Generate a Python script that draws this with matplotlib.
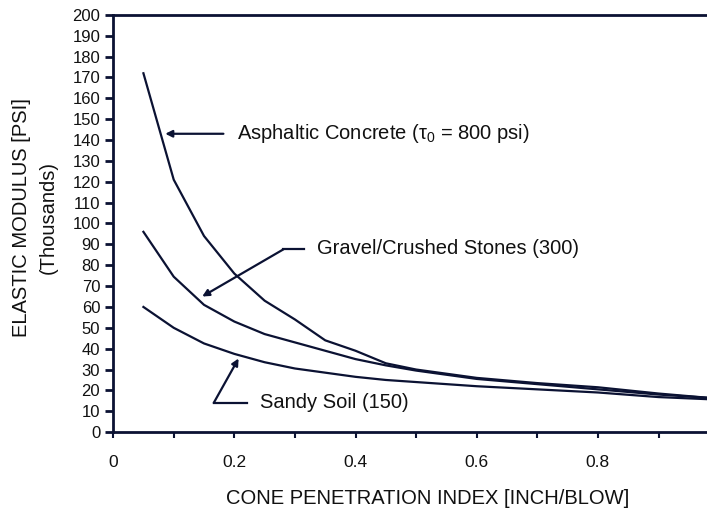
import matplotlib
matplotlib.use("Agg")
import matplotlib.pyplot as plt

plt.rcParams["font.family"] = ["Liberation Sans", "DejaVu Sans"]
plt.rcParams["mathtext.fontset"] = "custom"
plt.rcParams["mathtext.rm"] = "Liberation Sans"
plt.rcParams["mathtext.it"] = "Liberation Sans"

# cone penetration index [inch/blow]
cpi = [0.05, 0.10, 0.15, 0.20, 0.25, 0.30, 0.35, 0.40, 0.45, 0.50,
       0.60, 0.70, 0.80, 0.90, 0.98]
# elastic modulus, thousands of psi
asphalt = [172, 121, 94, 76, 63, 54, 44, 39, 33, 30, 26, 23.5, 21.5, 18.5, 16.5]
gravel = [96, 74.5, 61, 53, 47, 43, 39, 35, 32, 29.5, 25.5, 23, 20.5, 18, 16.5]
sandy = [60, 50, 42.5, 37.5, 33.5, 30.5, 28.5, 26.5, 25, 24, 22, 20.5, 19, 16.8, 15.8]

LINE = "#0b1233"
TEXT = "#111111"

fig = plt.figure(figsize=(7.07, 5.12), dpi=100)
ax = fig.add_axes([0.160, 0.156, 0.840, 0.815])

for ys in (asphalt, gravel, sandy):
    ax.plot(cpi, ys, color=LINE, lw=1.6)

arrow = dict(arrowstyle="-|>", color=LINE, lw=1.6, mutation_scale=10,
             shrinkA=0, shrinkB=0)

# Asphaltic concrete label
ax.annotate("", xy=(0.086, 143), xytext=(0.182, 143), arrowprops=arrow)
ax.text(0.205, 143, r"Asphaltic Concrete ($\tau_0$ = 800 psi)",
        fontsize=14.5, va="center", ha="left", color=TEXT)

# Gravel label
ax.plot([0.281, 0.315], [87.6, 87.6], color=LINE, lw=1.6)
ax.annotate("", xy=(0.147, 65), xytext=(0.281, 87.6), arrowprops=arrow)
ax.text(0.337, 88, "Gravel/Crushed Stones (300)",
        fontsize=14.5, va="center", ha="left", color=TEXT)

# Sandy soil label
ax.plot([0.166, 0.221], [14, 14], color=LINE, lw=1.6)
ax.annotate("", xy=(0.207, 35.3), xytext=(0.166, 14), arrowprops=arrow)
ax.text(0.243, 14, "Sandy Soil (150)",
        fontsize=14.5, va="center", ha="left", color=TEXT)

ax.set_xlim(0, 0.98)
ax.set_ylim(0, 200)
ax.set_yticks(range(0, 201, 10))
ax.set_xticks([0, 0.2, 0.4, 0.6, 0.8])
ax.set_xticklabels(["0", "0.2", "0.4", "0.6", "0.8"])
ax.set_xticks([0.1, 0.3, 0.5, 0.7, 0.9], minor=True)

ax.spines["right"].set_visible(False)
for s in ("left", "bottom", "top"):
    ax.spines[s].set_color(LINE)
    ax.spines[s].set_linewidth(2)

ax.tick_params(axis="y", direction="out", length=5.8, width=2, color=LINE,
               labelsize=12, pad=3.5, labelcolor=TEXT)
ax.tick_params(axis="x", which="both", direction="out", length=4.5, width=1.5,
               color=LINE, labelsize=12.5, pad=12, labelcolor=TEXT)

# axis titles placed in figure pixels to match the reference
W, H = 707, 512
fig.text(428 / W, 1 - 499 / H, "CONE PENETRATION INDEX [INCH/BLOW]",
         fontsize=14.5, ha="center", va="center", color=TEXT)
fig.text(22 / W, 1 - 218 / H, "ELASTIC MODULUS [PSI]", rotation=90,
         fontsize=14.5, ha="center", va="center", color=TEXT)
fig.text(48 / W, 1 - 218 / H, "(Thousands)", rotation=90,
         fontsize=14.5, ha="center", va="center", color=TEXT)

fig.savefig("out.png", dpi=100)
